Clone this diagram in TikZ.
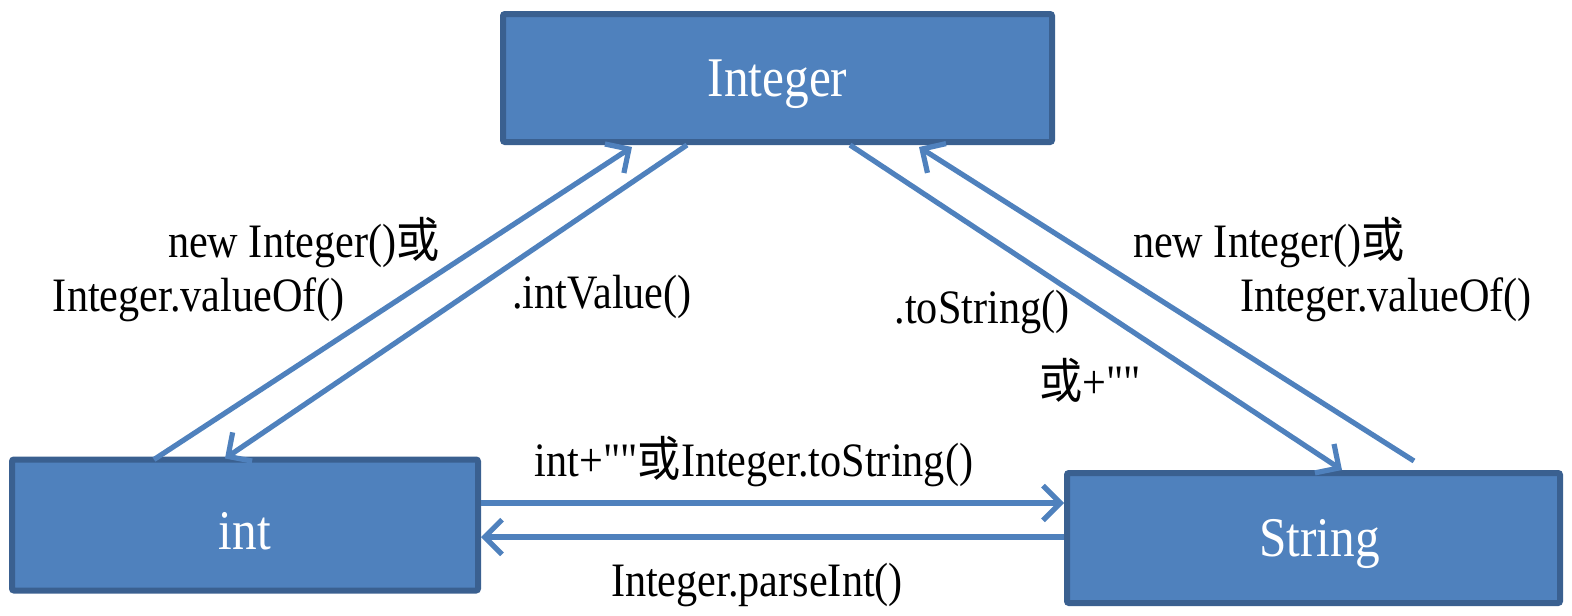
\documentclass[tikz,border=0pt]{standalone}
\usepackage{fontspec}
\newfontfamily\lib{Liberation Serif}[FakeStretch=0.88]
\newfontfamily\cjk{Noto Sans CJK SC}[FakeStretch=0.9]
\usetikzlibrary{arrows.meta,calc}
\definecolor{boxfill}{HTML}{4F81BD}
\definecolor{boxline}{HTML}{3A6090}
\definecolor{arrcol}{HTML}{4F81BD}
\newcommand{\huo}{{\cjk 或}}
\tikzset{
  typebox/.style={draw=boxline, fill=boxfill, line width=4.5pt, rounded corners=1.5pt, inner sep=0pt},
  boxtext/.style={text=white, font=\lib\fontsize{42}{48}\selectfont, inner sep=0pt},
  conv/.style={draw=arrcol, line width=3.9pt,
    -{Straight Barb[length=13pt,width=26pt,line width=3.9pt]}},
  lbl/.style={font=\lib\fontsize{36}{40}\selectfont, inner sep=0pt, text=black}
}
\begin{document}
\begin{tikzpicture}[x=0.75pt,y=-0.75pt]
\useasboundingbox (0,0) rectangle (1572,615);
\node[typebox, minimum width=411.75pt, minimum height=96pt] (Integer) at (777.5,78) {};
\node[typebox, minimum width=349.5pt, minimum height=98.25pt] (int) at (245,525) {};
\node[typebox, minimum width=369.75pt, minimum height=97.5pt] (String) at (1313.5,538) {};
\node[boxtext] (tInteger) at ($(Integer.center)+(0,6)$) {Integer};
\node[boxtext] (tint) at ($(int.center)+(0,6)$) {int};
\node[boxtext] (tString) at ($(String.center)+(6,6)$) {String};

\draw[conv] ($(int.north west)+(145,3)$) -- ($(Integer.south west)+(132,2)$);
\draw[conv] ($(Integer.south west)+(187,0)$) -- ($(int.north west)+(216,2)$);
\draw[conv] ($(Integer.south west)+(350,0)$) -- ($(String.north west)+(278,0)$);
\draw[conv] ($(String.north west)+(350,-9)$) -- ($(Integer.south west)+(419,2)$);
\draw[conv] ($(int.east)+(0,-22)$) -- ($(String.west)+(0,-35)$);
\draw[conv] ($(String.west)+(0,-1)$) -- ($(int.east)+(0,12)$);

\node[lbl] (l1) at (304,243) {new Integer()\huo};
\node[lbl] (l2) at (199,300) {Integer.valueOf()};
\node[lbl] (l3) at (602,297) {.intValue()};
\node[lbl] (l4) at (982,312) {.toString()};
\node[lbl] (l5) at (1090,380) {\huo+""};
\node[lbl] (l6) at (1269,243) {new Integer()\huo};
\node[lbl] (l7) at (1386,300) {Integer.valueOf()};
\node[lbl] (l8) at (754,462) {int+""\huo Integer.toString()};
\node[lbl] (l9) at (757,585) {Integer.parseInt()};
\end{tikzpicture}
\end{document}
